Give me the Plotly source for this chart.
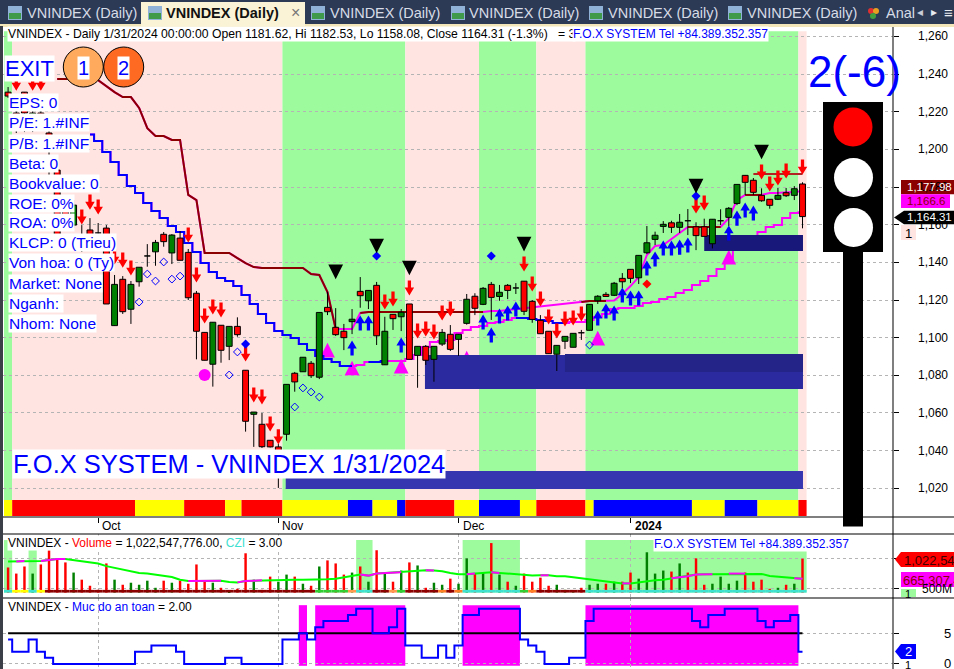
import plotly.graph_objects as go

# --- price data, one value per bar (VNINDEX daily, Sep 2023 - Jan 2024) ---
OPEN = [1230.4, 1219.3, 1230.4, 1212.9, 1219.3, 1208.7, 1189.0, 1170.4, 1159.8, 1154.5,
        1157.2, 1155.6, 1158.2, 1106.4, 1131.0, 1115.1, 1129.7, 1143.4, 1145.6, 1154.9,
        1145.0, 1152.9, 1145.3, 1123.6, 1102.8, 1085.9, 1106.6, 1095.4, 1106.0, 1082.7,
        1059.3, 1054.0, 1045.5, 1042.0, 1048.7, 1081.1, 1081.9, 1086.4, 1079.0, 1116.1,
        1105.5, 1103.4, 1108.5, 1124.6, 1119.6, 1127.8, 1085.6, 1112.4, 1111.1, 1117.9,
        1090.6, 1095.4, 1088.5, 1096.6, 1101.8, 1099.1, 1107.6, 1122.0, 1117.7, 1128.3,
        1121.9, 1127.8, 1126.4, 1130.0, 1119.3, 1109.2, 1103.4, 1091.2, 1098.1, 1094.9,
        1102.6, 1103.9, 1119.6, 1123.0, 1122.5, 1131.5, 1136.3, 1131.8, 1145.1, 1152.2,
        1159.1, 1161.0, 1158.6, 1162.1, 1158.9, 1158.9, 1149.9, 1162.1, 1163.9, 1171.3,
        1186.2, 1183.6, 1175.6, 1173.5, 1173.5, 1177.0, 1175.6, 1181.62]
HIGH = [1233.1, 1220.9, 1230.4, 1226.2, 1226.2, 1212.9, 1191.7, 1174.2, 1173.1, 1159.8,
        1163.5, 1160.9, 1159.8, 1133.3, 1132.7, 1130.1, 1137.4, 1149.7, 1151.9, 1156.1,
        1155.0, 1156.6, 1147.1, 1124.8, 1102.8, 1108.2, 1106.6, 1106.0, 1110.8, 1082.7,
        1060.5, 1060.0, 1045.5, 1043.5, 1075.2, 1081.8, 1089.6, 1087.6, 1113.4, 1124.4,
        1115.7, 1107.3, 1115.2, 1132.2, 1125.1, 1129.6, 1111.1, 1112.4, 1115.2, 1117.9,
        1095.4, 1096.1, 1095.4, 1104.6, 1106.7, 1101.8, 1123.2, 1123.6, 1126.9, 1129.6,
        1128.0, 1128.5, 1129.0, 1130.0, 1120.0, 1112.0, 1103.4, 1095.9, 1100.7, 1102.3,
        1104.1, 1117.7, 1122.6, 1124.2, 1129.6, 1134.3, 1136.3, 1143.7, 1159.3, 1156.3,
        1161.9, 1162.1, 1165.7, 1168.3, 1161.3, 1163.2, 1162.9, 1168.2, 1169.4, 1181.4,
        1186.4, 1184.8, 1179.3, 1173.5, 1179.5, 1179.5, 1180.5, 1182.53]
LOW = [1227.3, 1208.7, 1209.2, 1209.2, 1212.9, 1178.4, 1152.9, 1157.2, 1158.2, 1145.5,
       1151.9, 1154.0, 1117.9, 1106.4, 1112.6, 1107.3, 1127.1, 1137.7, 1138.2, 1148.3,
       1139.1, 1141.1, 1120.0, 1088.5, 1088.0, 1074.0, 1086.7, 1088.1, 1100.5, 1050.1,
       1042.0, 1041.4, 1041.7, 1020.2, 1045.3, 1071.3, 1081.9, 1078.6, 1078.0, 1112.0,
       1100.9, 1093.4, 1101.9, 1115.9, 1115.2, 1096.1, 1085.6, 1104.1, 1103.5, 1088.5,
       1073.4, 1085.5, 1076.6, 1095.6, 1092.9, 1090.3, 1106.9, 1112.0, 1117.3, 1109.4,
       1119.6, 1120.5, 1123.2, 1112.0, 1107.9, 1102.1, 1091.5, 1082.3, 1094.0, 1094.9,
       1098.8, 1103.9, 1117.9, 1121.6, 1122.1, 1126.4, 1129.0, 1128.5, 1144.4, 1149.2,
       1155.6, 1155.6, 1155.6, 1154.5, 1146.5, 1153.8, 1147.4, 1159.8, 1159.3, 1170.4,
       1175.8, 1175.8, 1172.2, 1168.5, 1173.1, 1174.7, 1173.1, 1158.08]
CLOSE = [1228.3, 1211.3, 1219.3, 1219.3, 1212.9, 1199.6, 1154.5, 1159.8, 1170.4, 1146.5,
         1154.0, 1155.6, 1117.9, 1128.3, 1113.8, 1128.3, 1137.4, 1143.4, 1150.6, 1151.0,
         1154.5, 1141.1, 1121.2, 1103.4, 1088.0, 1108.2, 1093.3, 1106.0, 1101.6, 1055.6,
         1060.5, 1042.1, 1042.0, 1030.8, 1075.2, 1076.5, 1089.6, 1079.8, 1113.4, 1113.8,
         1101.6, 1100.0, 1109.8, 1122.3, 1125.1, 1101.0, 1103.4, 1110.1, 1113.5, 1088.5,
         1095.4, 1088.0, 1095.4, 1102.8, 1093.8, 1101.8, 1120.4, 1115.6, 1126.2, 1121.4,
         1124.1, 1125.1, 1126.4, 1114.0, 1109.7, 1102.1, 1091.5, 1095.9, 1100.7, 1102.3,
         1102.6, 1117.7, 1122.0, 1121.9, 1128.9, 1129.7, 1131.5, 1143.7, 1150.4, 1154.4,
         1160.2, 1158.6, 1161.3, 1162.1, 1154.2, 1153.8, 1162.9, 1162.1, 1168.7, 1181.4,
         1182.5, 1177.2, 1172.7, 1170.3, 1175.6, 1175.4, 1179.1, 1164.31]

# trailing lines, None where nothing is drawn
LOWER_LINE = [None] * 10 + [
    1207.9, 1204.4, 1198.6, 1193.3, 1186.4, 1180.5, 1176.8, 1171.5, 1167.3, 1163.5,
    1159.3, 1156.1, 1150.3, 1145.5, 1139.6, 1134.9, 1131.7, 1130.1, 1127.4, 1122.7,
    1117.9, 1112.6, 1107.8, 1103.5, 1101.4, 1099.8, 1096.6, 1093.4, 1090.3, 1088.7,
    1087.1, 1084.9, 1084.9, 1085.5, 1087.1, 1087.1, 1087.6, 1087.6, 1087.6, 1088.7,
    1090.8, 1095.0, 1097.7, 1098.2, 1098.8, 1102.5, 1104.1, 1105.7, 1106.2, 1107.8,
    1108.3, 1109.4, 1110.4, 1110.4, 1109.9, 1109.4, 1108.8, 1107.8, 1107.8, 1108.3,
    1108.3, 1109.4, 1111.0, 1112.6, 1115.2, 1115.8, 1115.8, 1116.8, 1118.4, 1118.9,
    1120.5, 1121.6, 1123.7, 1125.3, 1128.0, 1130.1, 1132.7, 1136.5, 1139.6, 1146.5,
    1150.3, 1154.0, 1156.1, 1158.8, 1159.8, 1163.5, 1166.2, 1166.6]
LOWER_BLUE_RUNS = [(10, 42), (44, 46), (62, 68)]
UPPER_LINE = [None] * 6 + [
    1237.4, 1237.4, 1237.4, 1237.4, 1237.4, 1236.8, 1233.6, 1230.4, 1227.8, 1227.8,
    1222.0, 1211.3, 1207.1, 1207.1, 1205.0, 1205.0, 1175.8, 1173.1, 1145.0, 1145.0,
    1145.0, 1145.0, 1142.3, 1139.6, 1137.5, 1137.0, 1137.0, 1137.0, 1137.0, 1137.0,
    1137.0, 1133.8, 1133.3, 1124.2, 1104.6, 1104.6, 1104.6, 1113.1, 1113.6, 1113.6,
    1113.6, 1113.6, 1113.6, 1113.6, 1113.6, 1113.6, 1113.6, 1113.6, 1113.6, 1113.6,
    1113.6, 1113.6, 1113.6, 1114.2, 1114.2, 1114.7, 1115.2, 1115.7, 1116.3, 1116.8,
    1117.3, 1117.6, 1117.9, 1118.4, 1118.9, 1119.5, 1119.5, 1119.5, 1119.7, 1123.2,
    1127.4, 1132.2, 1143.9, 1148.7, 1149.2, 1152.4, 1155.6, 1158.8, 1158.8, 1158.8,
    1158.8, 1158.8, 1163.5, 1173.1, 1175.8, 1175.8, 1175.8, 1176.8, 1176.8, 1177.3,
    1177.3, 1177.98]
UPPER_DARK_RUNS = [(6, 40), (43, 58), (70, 73), (83, 87), (90, 92)]
RESIST_IDX = [91, 97]
RESIST_PRICE = [1186.9, 1186.9]

# signal markers
SELL_IDX = [1, 3, 4, 9, 10, 11, 13, 14, 15, 22, 23, 24, 25, 26, 29, 30, 31, 32, 33, 46, 47,
            49, 50, 51, 52, 53, 54, 63, 64, 65, 66, 67, 68, 69, 70, 84, 85, 92, 93, 94, 95, 97]
SELL_PRICE = [1235.2, 1235.2, 1235.2, 1164.1, 1172.0, 1169.4, 1142.8, 1141.2, 1137.0, 1154.5,
              1133.3, 1111.5, 1116.3, 1114.7, 1091.3, 1069.6, 1068.5, 1054.2, 1047.3, 1118.9,
              1120.5, 1126.4, 1103.5, 1104.6, 1103.0, 1113.1, 1115.2, 1139.1, 1128.5, 1120.5,
              1111.0, 1103.5, 1109.9, 1110.4, 1112.6, 1169.9, 1171.5, 1188.0, 1181.6, 1184.8,
              1188.5, 1190.6]
BUY_IDX = [42, 43, 44, 48, 58, 59, 60, 61, 62, 72, 73, 74, 75, 76, 77, 78, 79, 80, 81, 82, 83,
           88, 89, 90, 91]
BUY_PRICE = [1094.5, 1107.8, 1107.8, 1096.1, 1108.3, 1101.4, 1111.5, 1113.1, 1115.2, 1110.4,
             1114.2, 1113.1, 1122.7, 1121.1, 1121.1, 1137.0, 1141.8, 1147.6, 1147.6, 1148.1,
             1149.2, 1155.6, 1163.5, 1167.8, 1166.2]
OPEN_DIAMOND_IDX = [16, 17, 18, 19, 20, 21, 27, 28, 35, 36, 37, 38, 71]
OPEN_DIAMOND_PRICE = [1118.9, 1133.8, 1130.1, 1140.2, 1131.1, 1132.7, 1080.2, 1092.4, 1063.2,
                      1073.3, 1071.1, 1068.5, 1096.1]
BLUE_DOT_IDX = [29, 45, 59, 84]
BLUE_DOT_PRICE = [1096.6, 1143.4, 1143.4, 1175.2]
UP_TRIANGLE_IDX = [39, 42, 48, 56, 72, 88]
UP_TRIANGLE_PRICE = [1093.4, 1083.9, 1084.9, 1089.2, 1099.8, 1142.8]
DOWN_TRIANGLE_IDX = [40, 45, 49, 63, 84, 92]
DOWN_TRIANGLE_PRICE = [1134.9, 1148.7, 1137.0, 1149.7, 1180.5, 1198.6]

# background regimes and the status strip as (first edge, last edge, colour)
ZONE_RUNS = [(-0.5, 0.5, "#9dfb9d"), (0.5, 33.5, "#ffe4e1"), (33.5, 48.5, "#9dfb9d"),
             (48.5, 57.5, "#ffe4e1"), (57.5, 64.5, "#9dfb9d"), (64.5, 70.5, "#ffe4e1"),
             (70.5, 96.5, "#9dfb9d"), (96.5, 97.5, "#ffe4e1")]
STRIP_RUNS = [(-0.5, 0.5, "#ffff00"), (0.5, 15.5, "#ff0000"), (15.5, 21.5, "#ffff00"),
              (21.5, 26.5, "#ff0000"), (26.5, 28.5, "#ffff00"), (28.5, 33.5, "#ff0000"),
              (33.5, 41.5, "#ffff00"), (41.5, 44.5, "#0000ff"), (44.5, 47.5, "#ffff00"),
              (47.5, 48.5, "#0000ff"), (48.5, 54.5, "#ff0000"), (54.5, 57.5, "#ffff00"),
              (57.5, 62.5, "#0000ff"), (62.5, 64.5, "#ffff00"), (64.5, 70.5, "#ff0000"),
              (70.5, 71.5, "#ffff00"), (71.5, 83.5, "#0000ff"), (83.5, 87.5, "#ffff00"),
              (87.5, 91.5, "#0000ff"), (91.5, 96.5, "#ffff00"), (96.5, 97.5, "#ff0000")]
# support boxes: first bar, last bar, low, high, colour
BOXES = [(33.9, 97.06, 1019.6, 1029.2, "#3636b0"), (50.9, 97.06, 1072.7, 1090.8, "#2b2b9f"),
         (68.0, 97.06, 1081.8, 1091.3, "#232388"), (85.0, 97.06, 1146.0, 1154.5, "#18187a")]

# volume pane, in millions
VOLUME = [866, 758, 884, 758, 920, 1172, 1010, 956, 776, 650, 542, 470, 938, 650, 560, 596,
          560, 632, 506, 632, 596, 632, 578, 920, 614, 596, 506, 440, 488, 1118, 650, 470,
          704, 614, 740, 704, 578, 542, 884, 992, 938, 740, 776, 884, 614, 1172, 776, 614,
          812, 956, 902, 506, 596, 560, 668, 578, 1028, 758, 770, 1299, 740, 614, 542, 758,
          614, 686, 542, 560, 470, 458, 506, 560, 578, 578, 614, 614, 776, 668, 1136, 758,
          812, 794, 938, 776, 1028, 560, 578, 704, 578, 632, 776, 614, 650, 488, 506, 560,
          578, 1022.5]
VOLUME_DIR = ("rrrgrrrrgr" "rrrgrggggr" "grrrrgrgrr" "grrggrgrgr" "rrgrgrgrgr"
              "grggrggrgr" "grgrrrrggg" "rggrgrrggg" "grgrrrgggg" "rrrrgrgr")
VOLUME_MA = [974, 974, 980, 980, 980, 998, 1016, 1016, 998, 974, 950, 938, 890, 860, 818, 794,
             770, 758, 740, 728, 698, 650, 626, 626, 632, 638, 632, 608, 602, 626, 632, 638,
             638, 650, 650, 650, 650, 650, 650, 656, 668, 692, 722, 740, 722, 758, 770, 782,
             782, 794, 812, 818, 812, 800, 770, 746, 746, 758, 758, 782, 770, 758, 758, 746,
             722, 728, 728, 710, 710, 692, 674, 662, 644, 626, 602, 584, 584, 602, 632, 638,
             650, 674, 686, 710, 740, 746, 746, 758, 758, 758, 758, 758, 752, 716, 704, 692,
             674, 665.3]
VOLUME_MA_PINK_RUNS = [(1, 2), (4, 7), (22, 26), (28, 31), (43, 44), (45, 46), (47, 48), (51, 52),
                       (56, 57), (59, 60), (65, 66), (75, 76), (81, 83), (84, 86), (88, 90), (96, 97)]
VOLUME_ZONE_RUNS = [(-0.5, 0.5), (2.5, 3.5), (42.5, 44.5), (55.5, 62.5), (70.5, 97.5)]
CZI_RUNS = [(0, 0, "#40e0d0"), (1, 2, "#ffff00"), (3, 3, "#40e0d0"), (4, 4, "#ffff00"),
            (5, 37, "#8b0000"), (38, 41, "#32cd32"), (42, 42, "#ff9a50"), (43, 44, "#40e0d0"),
            (45, 46, "#8b0000"), (47, 47, "#ff9a50"), (48, 48, "#32cd32"), (49, 52, "#8b0000"),
            (53, 53, "#ff7f27"), (54, 54, "#8b0000"), (55, 55, "#ff7f27"), (56, 62, "#40e0d0"),
            (63, 63, "#32cd32"), (64, 64, "#ff7f27"), (65, 70, "#8b0000"), (71, 97, "#40e0d0")]

# safety level pane
SAFETY = [4, 2, 2, 4, 2, 1, 0, 0, 0, 0, 0, 0, 0, 0, 0, 0, 2, 2, 3, 3, 3, 2, 0, 0, 0, 0, 0, 1, 1, 0,
          0, 0, 0, 0, 4, 4, 5, 4, 6, 7, 7, 7, 8, 9, 9, 5, 5, 6, 9, 3, 3, 1, 1, 3, 1, 3, 8, 8, 9, 9,
          9, 9, 9, 4, 3, 2, 0, 0, 0, 1, 1, 7, 9, 9, 9, 9, 9, 9, 9, 9, 9, 9, 9, 9, 7, 6, 8, 8, 9, 9,
          9, 9, 7, 6, 7, 7, 8, 2]
SAFETY_ZONE_RUNS = [(35.5, 36.5), (37.5, 48.5), (55.5, 62.5), (70.5, 96.5)]

PRICE_TICKS = [1020, 1040, 1060, 1080, 1100, 1120, 1140, 1160, 1180, 1200, 1220, 1240, 1260]
MONTH_TICKS = [11, 33, 55, 76]
MONTH_LABELS = ["Oct", "Nov", "Dec", "<b>2024</b>"]
INFO_LINES = ["EPS: 0", "P/E: 1.#INF", "P/B: 1.#INF", "Beta: 0", "Bookvalue: 0", "ROE: 0%",
              "ROA: 0%", "KLCP: 0 (Trieu)", "Von hoa: 0 (Ty)", "Market: None", "Nganh: ", "Nhom: None"]
TAB_TEXT_X = [26, 329, 468, 607, 746]
TAB_ICON_X = [8, 311, 451, 589, 728]

W, H = 954, 669
FONT = "Liberation Sans"
HALF_BODY = 0.36
# glyph sizes in axis units (one bar is about 8.2 px, one index point about 1.9 px)
ARROW_HALF_H, ARROW_HEAD_L = 4.0, 4.2
ARROW_HALF_W, STEM_HALF_W = 0.58, 0.2
TRI_HALF_W, TRI_HALF_H = 0.9, 3.9
n = len(CLOSE)
idx = list(range(n))


def px(x):
    return x / W


def py(y):
    return 1 - y / H


def runs_only(values, runs):
    keep = set()
    for a, b in runs:
        keep.update(range(a, b + 1))
    return [v if i in keep else None for i, v in enumerate(values)]


def arrows(xs, ys, down):
    # closed arrow outlines, split by None so one trace fills them all
    sign = 1 if down else -1
    out_x, out_y = [], []
    for i, c in zip(xs, ys):
        back = c + sign * ARROW_HALF_H
        tip = c - sign * ARROW_HALF_H
        neck = tip + sign * ARROW_HEAD_L
        out_x += [i - STEM_HALF_W, i + STEM_HALF_W, i + STEM_HALF_W, i + ARROW_HALF_W, i,
                  i - ARROW_HALF_W, i - STEM_HALF_W, i - STEM_HALF_W, None]
        out_y += [back, back, neck, neck, tip, neck, neck, back, None]
    return out_x, out_y


def triangles(xs, ys, down):
    sign = 1 if down else -1
    out_x, out_y = [], []
    for i, c in zip(xs, ys):
        out_x += [i - TRI_HALF_W, i + TRI_HALF_W, i, i - TRI_HALF_W, None]
        out_y += [c + sign * TRI_HALF_H, c + sign * TRI_HALF_H, c - sign * TRI_HALF_H, c + sign * TRI_HALF_H, None]
    return out_x, out_y


def filled(xy, color):
    return go.Scatter(x=xy[0], y=xy[1], mode="lines", fill="toself", fillcolor=color, line=dict(width=0))


def rect(x0, y0, x1, y1, color, layer="above", line=None, circle=False):
    return dict(type="circle" if circle else "rect", xref="paper", yref="paper",
                x0=px(x0), x1=px(x1), y0=py(y0), y1=py(y1), fillcolor=color, layer=layer,
                line=dict(width=1 if line else 0, color=line or color))


def tag_path(x_tip, x_body, x_end, y0, y1, color):
    mid = (y0 + y1) / 2
    path = (f"M{px(x_tip)},{py(mid)}L{px(x_body)},{py(y0)}L{px(x_end)},{py(y0)}"
            f"L{px(x_end)},{py(y1)}L{px(x_body)},{py(y1)}Z")
    return dict(type="path", xref="paper", yref="paper", path=path, fillcolor=color,
                line=dict(width=0), layer="above")


def label(text, x, y, size=12, color="black", bg=None, anchor="left", font=FONT):
    return dict(text=text, x=px(x), y=py(y), xref="paper", yref="paper", xanchor=anchor,
                yanchor="middle", showarrow=False, font=dict(size=size, color=color, family=font),
                bgcolor=bg, borderpad=0)


fig = go.Figure()

# things the support boxes hide go first
fig.add_trace(filled(triangles(UP_TRIANGLE_IDX, UP_TRIANGLE_PRICE, False), "#ff00ff"))
fig.add_trace(go.Scatter(x=idx, y=LOWER_LINE, mode="lines", line=dict(color="#ff00ff", width=2, shape="hvh")))
fig.add_trace(go.Scatter(x=idx, y=runs_only(LOWER_LINE, LOWER_BLUE_RUNS), mode="lines",
                         line=dict(color="#0000ff", width=2, shape="hvh")))
fig.add_trace(go.Scatter(x=idx, y=UPPER_LINE, mode="lines", line=dict(color="#ff00ff", width=2)))
fig.add_trace(go.Scatter(x=idx, y=runs_only(UPPER_LINE, UPPER_DARK_RUNS), mode="lines",
                         line=dict(color="#8b0000", width=2)))
fig.add_trace(go.Scatter(x=RESIST_IDX, y=RESIST_PRICE, mode="lines", line=dict(color="#b22222", width=2)))

for x0, x1, low, high, color in BOXES:
    fig.add_trace(go.Scatter(x=[x0, x1, x1, x0, x0], y=[low, low, high, high, low], mode="lines",
                             fill="toself", fillcolor=color, line=dict(width=0)))

# candles are built from scatter so they can sit on top of the boxes
wick_x, wick_y = [], []
for i in idx:
    wick_x += [i, i, None]
    wick_y += [HIGH[i], LOW[i], None]
fig.add_trace(go.Scatter(x=wick_x, y=wick_y, mode="lines", line=dict(color="black", width=1)))
for color, test in (("#ff0000", lambda o, c: c < o), ("#008000", lambda o, c: c >= o)):
    body_x, body_y = [], []
    for i in idx:
        if test(OPEN[i], CLOSE[i]):
            left, right = i - HALF_BODY, i + HALF_BODY
            body_x += [left, right, right, left, left, None]
            body_y += [OPEN[i], OPEN[i], CLOSE[i], CLOSE[i], OPEN[i], None]
    fig.add_trace(go.Scatter(x=body_x, y=body_y, mode="lines", fill="toself", fillcolor=color,
                             line=dict(color="black", width=1)))

fig.add_trace(filled(arrows(SELL_IDX, SELL_PRICE, True), "#ff0000"))
fig.add_trace(filled(arrows(BUY_IDX, BUY_PRICE, False), "#0000ff"))
fig.add_trace(go.Scatter(x=OPEN_DIAMOND_IDX, y=OPEN_DIAMOND_PRICE, mode="markers",
                         marker=dict(symbol="diamond-open", size=6, color="#0000ff", line=dict(width=1))))
fig.add_trace(go.Scatter(x=BLUE_DOT_IDX, y=BLUE_DOT_PRICE, mode="markers",
                         marker=dict(symbol="diamond", size=7, color="#0000ff")))
fig.add_trace(go.Scatter(x=[78], y=[1128.5], mode="markers", marker=dict(symbol="diamond", size=7, color="#ff0000")))
fig.add_trace(go.Scatter(x=[24], y=[1080.2], mode="markers", marker=dict(symbol="circle", size=12, color="#ff00ff")))
fig.add_trace(filled(triangles(DOWN_TRIANGLE_IDX, DOWN_TRIANGLE_PRICE, True), "black"))

# volume pane
fig.add_trace(go.Bar(x=idx, y=[v - 421 for v in VOLUME], base=421, width=0.3, xaxis="x2", yaxis="y2",
                     marker=dict(color=["#ff0000" if d == "r" else "#008000" for d in VOLUME_DIR], line_width=0)))
czi_x, czi_color = [], []
for a, b, color in CZI_RUNS:
    for i in range(a, b + 1):
        czi_x.append(i)
        czi_color.append(color)
fig.add_trace(go.Bar(x=czi_x, y=[48] * len(czi_x), base=421, width=1, xaxis="x2", yaxis="y2",
                     marker=dict(color=czi_color, line_width=0)))
fig.add_trace(go.Scatter(x=idx, y=VOLUME_MA, mode="lines", xaxis="x2", yaxis="y2",
                         line=dict(color="#00ff00", width=2)))
fig.add_trace(go.Scatter(x=idx, y=runs_only(VOLUME_MA, VOLUME_MA_PINK_RUNS), mode="lines", xaxis="x2", yaxis="y2",
                         line=dict(color="#ff00ff", width=2)))

# safety pane
fig.add_trace(go.Scatter(x=[0, 97], y=[5, 5], mode="lines", xaxis="x3", yaxis="y3", line=dict(color="black", width=2)))
fig.add_trace(go.Scatter(x=idx, y=SAFETY, mode="lines", xaxis="x3", yaxis="y3",
                         line=dict(color="#0000ff", width=2, shape="hvh")))

shapes = []
for a, b, color in ZONE_RUNS:
    shapes.append(dict(type="rect", xref="x", yref="y", x0=a, x1=b, y0=1013.8, y1=1262.8,
                       fillcolor=color, line_width=0, layer="below"))
for a, b, color in STRIP_RUNS:
    shapes.append(dict(type="rect", xref="x", yref="y", x0=a, x1=b, y0=1005.3, y1=1013.8,
                       fillcolor=color, line_width=0, layer="below"))
for a, b in VOLUME_ZONE_RUNS:
    shapes.append(dict(type="rect", xref="x2", yref="y2", x0=a, x1=b, y0=421, y1=1352,
                       fillcolor="#9dfb9d", line_width=0, layer="below"))
for a, b in SAFETY_ZONE_RUNS:
    shapes.append(dict(type="rect", xref="x3", yref="y3", x0=a, x1=b, y0=-0.3, y1=9.6,
                       fillcolor="#ff00ff", line_width=0, layer="below"))

# window chrome
shapes += [rect(0, 0, 954, 25, "#2c3a56"), rect(0, 24, 954, 27, "#f3e6b8"),
           rect(141, 2, 305, 26, "#fbf3d6"), rect(0, 26, 3, 669, "#3b4048")]
for x in TAB_ICON_X + [148]:
    shapes += [rect(x, 6, x + 14, 20, "#8fb2d6"), rect(x + 1, 13, x + 13, 19, "#3f9a4a")]
shapes += [rect(868, 8, 874, 14, "#e03030", circle=True), rect(873, 8, 879, 14, "#e8a020", circle=True),
           rect(870, 13, 876, 19, "#40a040", circle=True)]
# separators and the price axis line
for y in (517, 534, 598):
    shapes.append(rect(3, y - 0.5, 954, y + 0.5, "black"))
shapes.append(rect(892.5, 27, 893.5, 669, "black"))
# order circles and traffic light
shapes += [rect(63.3, 47, 103.3, 87, "#ffaa5c", line="black", circle=True),
           rect(103.7, 47, 143.7, 87, "#ff6a22", line="black", circle=True),
           rect(823, 102, 883, 252, "black"), rect(843, 252, 863, 526.5, "black"),
           rect(833.5, 107.5, 872.5, 146.5, "#ff0000", circle=True),
           rect(834, 158, 873, 197, "white", circle=True),
           rect(834, 208, 873, 247, "white", circle=True)]
# value tags on the axis
shapes += [rect(901, 180, 954, 194.3, "#8b0000"), rect(901, 194.3, 950, 208, "#ff00ff"),
           tag_path(894, 904, 954, 210.7, 224.3, "black"), rect(901, 225, 916, 240, "#ffe4e1"),
           tag_path(895, 901, 954, 552, 567, "#ff0000"), rect(901, 572, 954, 587, "#ff00ff"),
           rect(901, 589, 916, 597, "#9dfb9d"), tag_path(895, 901, 916, 644, 659, "#0000ff")]

annotations = []
for i, text in enumerate(["VNINDEX (Daily)"] * 5):
    annotations.append(label(text, TAB_TEXT_X[i], 13, size=14.5, color="#d7dce6"))
annotations += [label("<b>VNINDEX (Daily)</b>", 165, 13, size=14.5, color="#111111"),
                label("Anal", 885, 13, size=14.5, color="#d7dce6"),
                label("×", 295, 12, size=16, color="#777777", anchor="center"),
                label("◂", 920, 12, size=12, color="#c8ccd6", anchor="center"),
                label("▸", 934, 12, size=12, color="#e8ebf0", anchor="center"),
                label("≡", 948, 12, size=15, color="#e8ebf0", anchor="center")]
annotations.append(label("VNINDEX - Daily 1/31/2024 00:00:00 Open 1181.62, Hi 1182.53, Lo 1158.08, "
                         "Close 1164.31 (-1.3%)&nbsp;&nbsp;&nbsp;= 3", 7, 34, size=12.2, bg="white"))
annotations.append(label("F.O.X SYSTEM Tel +84.389.352.357", 572, 34, size=12, color="#0000ff", bg="white"))
annotations.append(label("EXIT", 4, 69, size=22, color="#0000ff", bg="white"))
annotations.append(label("1", 83.5, 68, size=20, color="#0000ff", bg="white", anchor="center"))
annotations.append(label("2", 124, 68, size=20, color="#0000ff", bg="white", anchor="center"))
for i, line in enumerate(INFO_LINES):
    annotations.append(label(line, 8, 103 + 20 * i, size=15.5, color="#0000ff", bg="white"))
annotations.append(label("F.O.X SYSTEM - VNINDEX 1/31/2024", 12, 464, size=25.5, color="#0000ff", bg="white"))
annotations.append(label("2(-6)", 807, 72, size=44, color="#0000ff"))
for p in PRICE_TICKS:
    annotations.append(dict(text=f"{p:,}", x=px(950), y=p, xref="paper", yref="y", xanchor="right",
                            yanchor="middle", showarrow=False, font=dict(size=12, color="black", family=FONT)))
for x, text in zip(MONTH_TICKS, MONTH_LABELS):
    annotations.append(dict(text=text, x=x, y=py(526), xref="x", yref="paper", xanchor="left", xshift=2,
                            yanchor="middle", showarrow=False, font=dict(size=12, color="black", family=FONT)))
annotations.append(label('VNINDEX - <span style="color:#ff0000">Volume</span> = 1,022,547,776.00, '
                         '<span style="color:#40e0d0">CZI</span> = 3.00', 7, 543, size=12, bg="white"))
annotations.append(label("F.O.X SYSTEM Tel +84.389.352.357", 653, 544, size=12, color="#0000ff", bg="white"))
annotations.append(label('VNINDEX - <span style="color:#0000ff">Muc do an toan</span> = 2.00', 7, 607, size=12))
annotations += [label("1,177.98", 906, 187, size=11.5, color="white"),
                label("1,166.6", 906, 201, size=11.5, color="#8b0000"),
                label("1,164.31", 906, 217.5, size=11.5, color="white"),
                label("1", 904, 233, size=13, color="black"),
                label("1,022,547", 903, 560, size=13, color="#400000"),
                label("665,307,4", 902, 580, size=13, color="#8b0000"),
                label("1", 904, 594, size=11, color="black"),
                label("500M", 921, 589, size=12, color="black"),
                label("2", 908, 651.5, size=13, color="white", anchor="center"),
                label("5", 952, 633, size=13, anchor="right"),
                label("0", 952, 663.5, size=13, anchor="right"),
                label("1", 904, 665, size=11, color="black")]

x_range = [-0.62, 108.05]
grid = dict(griddash="dot", gridcolor="#b4b4b4", gridwidth=1)
y_common = dict(side="right", showticklabels=False, ticks="outside", ticklen=5, tickcolor="black",
                zeroline=False, showline=False, showgrid=True, **grid)
fig.update_layout(
    width=W, height=H, margin=dict(l=0, r=0, t=0, b=0), paper_bgcolor="white", plot_bgcolor="white",
    showlegend=False, hovermode=False, barmode="overlay", font=dict(family=FONT),
    xaxis=dict(domain=[px(3), px(893)], range=x_range, anchor="y", tickmode="array", tickvals=MONTH_TICKS,
               showticklabels=False, ticks="outside", ticklen=5, tickcolor="black", showgrid=False, zeroline=False),
    xaxis2=dict(domain=[px(3), px(893)], range=x_range, anchor="y2", tickmode="array", tickvals=MONTH_TICKS,
                showticklabels=False, showgrid=True, zeroline=False, **grid),
    xaxis3=dict(domain=[px(3), px(893)], range=x_range, anchor="y3", tickmode="array", tickvals=MONTH_TICKS,
                showticklabels=False, showgrid=True, zeroline=False, **grid),
    yaxis=dict(domain=[py(517), py(27)], range=[1004.76, 1265], anchor="x", tickmode="array",
               tickvals=PRICE_TICKS, **y_common),
    yaxis2=dict(domain=[py(598), py(534)], range=[325, 1460], anchor="x2", tickmode="array",
                tickvals=[500, 1022.5], **y_common),
    yaxis3=dict(domain=[0, py(598)], range=[-0.82, 10.77], anchor="x3", tickmode="array",
                tickvals=[0, 5], **y_common),
    shapes=shapes, annotations=annotations,
)

fig.write_html("out.html", config=dict(displayModeBar=False),
               post_script="document.body.style.margin='0';document.documentElement.style.overflow='hidden';")
